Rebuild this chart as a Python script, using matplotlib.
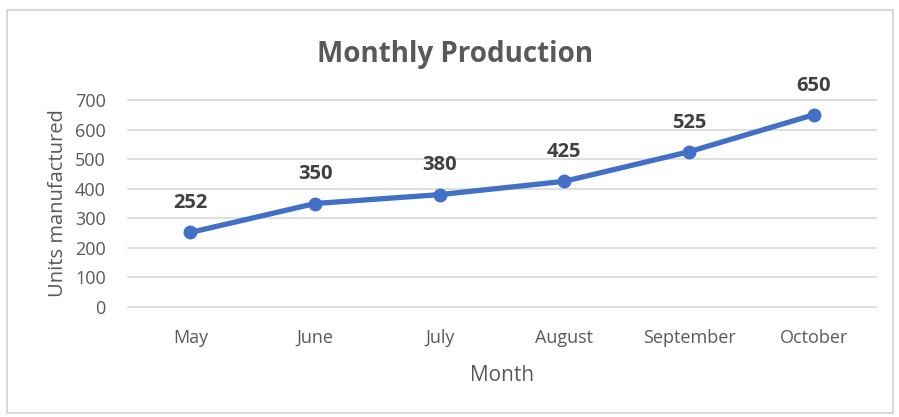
import matplotlib.pyplot as plt
from matplotlib.patches import Rectangle

# ------------------ DATA ------------------
months = ["May", "June", "July", "August", "September", "October"]
units = [252, 350, 380, 425, 525, 650]
y_ticks = [0, 100, 200, 300, 400, 500, 600, 700]
# ------------------------------------------

plt.rcParams['font.family'] = ['Open Sans', 'DejaVu Sans']

fig = plt.figure(figsize=(8.99, 4.17), dpi=100)
ax = fig.add_axes([128 / 899, 110 / 417, 748 / 899, 207 / 417])

# marco del gráfico
fig.patches.append(Rectangle((7 / 899, 4 / 417), 886 / 899, 403 / 417,
                             transform=fig.transFigure, fill=False,
                             edgecolor="#d0d0d0", linewidth=1.2))

x = list(range(len(months)))
ax.plot(x, units, color="#4270C6", linewidth=3.8, marker="o",
        markersize=9, zorder=3)

for xi, v in zip(x, units):
    ax.annotate(str(v), (xi, v), xytext=(0, 21), textcoords="offset points",
                ha="center", va="center", fontsize=14.5, fontweight="bold",
                color="#404040")

ax.set_xlim(-0.5, len(months) - 0.5)
ax.set_ylim(0, 700)
ax.set_yticks(y_ticks)
ax.set_xticks(x)
ax.set_xticklabels(months)
ax.grid(axis="y", color="#d9d9d9", linewidth=1.2)
for gl in ax.get_ygridlines():
    gl.set_clip_on(False)
ax.set_axisbelow(True)
for s in ax.spines.values():
    s.set_visible(False)
ax.tick_params(length=0, colors="#595959", labelsize=13)
ax.tick_params(axis="x", pad=16)
ax.tick_params(axis="y", pad=16)

ax.set_xlabel("Month", fontsize=15, color="#595959", labelpad=13)
ax.set_ylabel("Units manufactured", fontsize=14.5, color="#595959", labelpad=5)

fig.text(455 / 899, 1 - 62 / 417, "Monthly Production", ha="center",
         va="baseline", fontsize=20, fontweight="bold", color="#595959")

fig.savefig("out.png", dpi=100, facecolor="white")
